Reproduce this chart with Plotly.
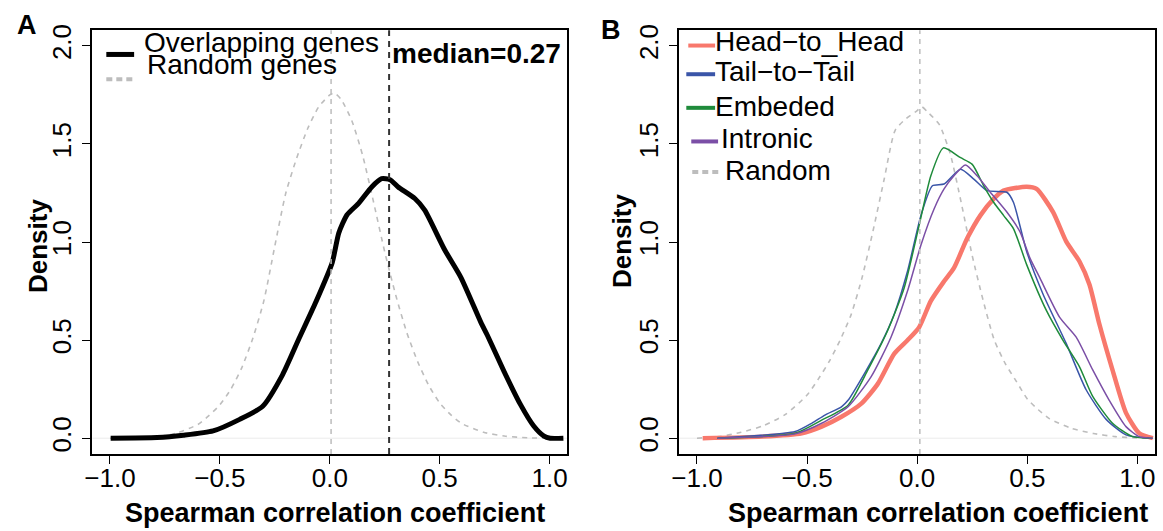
import plotly.graph_objects as go

W, H = 1163, 531

# ---------------- data ----------------
# Panel A: Overlapping genes density
a_overlap_x = [-0.997, -0.786, -0.666, -0.531, -0.41, -0.305, -0.215, -0.14, -0.064, 0.011, 0.041,
               0.078, 0.131, 0.191, 0.236, 0.274, 0.311, 0.387, 0.432, 0.522, 0.597, 0.687, 0.717,
               0.793, 0.868, 0.928, 0.973, 1.003, 1.063]
a_overlap_y = [0.0, 0.003, 0.015, 0.037, 0.096, 0.163, 0.323, 0.508, 0.693, 0.895, 1.046,
               1.138, 1.197, 1.281, 1.323, 1.318, 1.281, 1.222, 1.163, 0.962, 0.819, 0.592, 0.525,
               0.34, 0.171, 0.062, 0.012, 0.0, 0.0]
# Panel A: Random genes density
a_random_x = [-1.0, -0.9, -0.8, -0.7, -0.6, -0.55, -0.5, -0.45, -0.4, -0.35, -0.3, -0.25, -0.2, -0.15,
              -0.1, -0.05, 0.0, 0.02, 0.05, 0.1, 0.15, 0.2, 0.25, 0.3, 0.35, 0.4, 0.45, 0.5, 0.55,
              0.6, 0.7, 0.8, 0.9, 1.0, 1.06]
a_random_y = [0.0, 0.0, 0.004, 0.025, 0.07, 0.115, 0.17, 0.25, 0.36, 0.51, 0.70, 0.98, 1.25, 1.43,
              1.58, 1.69, 1.75, 1.76, 1.73, 1.62, 1.44, 1.2, 0.95, 0.73, 0.54, 0.39, 0.27, 0.18, 0.12,
              0.075, 0.03, 0.01, 0.002, 0.0, 0.0]
a_median_overlap = 0.27
a_median_random = 0.006

# Panel B
b_head_x = [-0.974, -0.704, -0.524, -0.434, -0.344, -0.254, -0.179, -0.104, -0.044, 0.009, 0.062,
            0.122, 0.167, 0.227, 0.287, 0.347, 0.392, 0.497, 0.542, 0.617, 0.677, 0.737, 0.782,
            0.827, 0.887, 0.948, 1.008, 1.07]
b_head_y = [0.0, 0.008, 0.025, 0.059, 0.109, 0.176, 0.277, 0.431, 0.499, 0.566, 0.70,
            0.80, 0.868, 1.019, 1.136, 1.22, 1.262, 1.282, 1.271, 1.153, 1.002, 0.901, 0.784,
            0.582, 0.347, 0.129, 0.025, 0.0]
b_tail_x = [-0.907, -0.554, -0.479, -0.419, -0.344, -0.314, -0.239, -0.164, -0.104, -0.044, 0.017,
            0.069, 0.122, 0.197, 0.257, 0.317, 0.407, 0.437, 0.497, 0.572, 0.677, 0.767, 0.858,
            0.948, 1.053]
b_tail_y = [0.0, 0.034, 0.076, 0.118, 0.16, 0.193, 0.331, 0.482, 0.633, 0.851, 1.136,
            1.287, 1.296, 1.371, 1.321, 1.262, 1.254, 1.203, 0.952, 0.733, 0.482, 0.247, 0.096,
            0.017, 0.0]
b_emb_x = [-0.907, -0.554, -0.434, -0.314, -0.224, -0.134, -0.059, 0.009, 0.062, 0.119, 0.197,
           0.25, 0.302, 0.347, 0.392, 0.437, 0.497, 0.587, 0.662, 0.737, 0.797, 0.887, 0.977, 1.068]
b_emb_y = [0.0, 0.025, 0.092, 0.168, 0.348, 0.549, 0.767, 1.086, 1.338, 1.48, 1.43,
           1.396, 1.287, 1.203, 1.136, 1.069, 0.885, 0.65, 0.499, 0.364, 0.213, 0.076, 0.008, 0.0]
b_intr_x = [-0.907, -0.554, -0.434, -0.314, -0.209, -0.119, -0.044, 0.017, 0.077, 0.122, 0.167,
            0.219, 0.272, 0.332, 0.407, 0.467, 0.512, 0.557, 0.647, 0.722, 0.797, 0.872, 0.948,
            1.008, 1.07]
b_intr_y = [0.0, 0.022, 0.076, 0.16, 0.314, 0.515, 0.75, 0.985, 1.17, 1.271, 1.338,
            1.393, 1.338, 1.254, 1.153, 1.052, 0.918, 0.817, 0.616, 0.515, 0.348, 0.193, 0.059,
            0.008, 0.0]
b_random_x = [-1.0, -0.9, -0.8, -0.7, -0.6, -0.5, -0.45, -0.4, -0.35, -0.3, -0.25, -0.2, -0.15, -0.1,
              -0.05, 0.0, 0.02, 0.05, 0.1, 0.15, 0.2, 0.25, 0.3, 0.35, 0.4, 0.45, 0.5, 0.55, 0.6,
              0.7, 0.8, 0.9, 1.0, 1.06]
b_random_y = [0.0, 0.008, 0.03, 0.063, 0.12, 0.22, 0.3, 0.39, 0.5, 0.63, 0.82, 1.06, 1.32, 1.57,
              1.63, 1.67, 1.69, 1.66, 1.6, 1.45, 1.2, 0.93, 0.7, 0.5, 0.38, 0.29, 0.2, 0.145, 0.1,
              0.05, 0.024, 0.008, 0.001, 0.0]
b_median_random = 0.012

x_ticks = [-1.0, -0.5, 0.0, 0.5, 1.0]
y_ticks = [0.0, 0.5, 1.0, 1.5, 2.0]
x_title = "Spearman correlation coefficient"
y_title = "Density"

# ---------------- styling ----------------
FONT = "Liberation Sans, Arial, Helvetica, sans-serif"
SALMON = "#F8786C"
BLUE = "#3A55A8"
GREEN = "#1F8B3B"
PURPLE = "#7B4FA6"
GRAY = "#BDBDBD"


def px(x):
    return x / W


def py(y):
    return 1 - y / H


fig = go.Figure()

fig.add_trace(go.Scatter(x=a_random_x, y=a_random_y, mode="lines", xaxis="x", yaxis="y",
                         line=dict(color=GRAY, width=1.6, dash="5px,5px", shape="spline", smoothing=0.6)))
fig.add_trace(go.Scatter(x=a_overlap_x, y=a_overlap_y, mode="lines", xaxis="x", yaxis="y",
                         line=dict(color="black", width=5, shape="spline", smoothing=0.6)))

fig.add_trace(go.Scatter(x=b_random_x, y=b_random_y, mode="lines", xaxis="x2", yaxis="y2",
                         line=dict(color=GRAY, width=1.6, dash="5px,5px", shape="spline", smoothing=0.6)))
fig.add_trace(go.Scatter(x=b_head_x, y=b_head_y, mode="lines", xaxis="x2", yaxis="y2",
                         line=dict(color=SALMON, width=4.5, shape="spline", smoothing=0.6)))
fig.add_trace(go.Scatter(x=b_tail_x, y=b_tail_y, mode="lines", xaxis="x2", yaxis="y2",
                         line=dict(color=BLUE, width=1.5, shape="spline", smoothing=0.6)))
fig.add_trace(go.Scatter(x=b_emb_x, y=b_emb_y, mode="lines", xaxis="x2", yaxis="y2",
                         line=dict(color=GREEN, width=1.5, shape="spline", smoothing=0.6)))
fig.add_trace(go.Scatter(x=b_intr_x, y=b_intr_y, mode="lines", xaxis="x2", yaxis="y2",
                         line=dict(color=PURPLE, width=1.5, shape="spline", smoothing=0.6)))

ydom = [py(453), py(24.5)]
axis_common = dict(range=[-1.08, 1.08], tickvals=x_ticks, ticktext=["−1.0", "−0.5", "0.0", "0.5", "1.0"],
                   ticks="outside", ticklen=8, tickwidth=1.3, tickcolor="black",
                   showline=True, linecolor="black", linewidth=1.5, mirror=True, ticklabelstandoff=-8,
                   showgrid=False, zeroline=False, tickfont=dict(family=FONT, size=26, color="black"))
yaxis_common = dict(range=[-0.08, 2.08], tickvals=y_ticks, ticktext=["0.0", "0.5", "1.0", "1.5", "2.0"],
                    ticks="outside", ticklen=9, tickwidth=1.3, tickcolor="black",
                    showline=True, linecolor="black", linewidth=1.5, mirror=True,
                    showgrid=False, zeroline=False, tickangle=-90,
                    tickfont=dict(family=FONT, size=26, color="black"), domain=ydom)

fig.update_layout(
    width=W, height=H, margin=dict(l=0, r=0, t=0, b=0),
    paper_bgcolor="white", plot_bgcolor="white", showlegend=False,
    xaxis=dict(domain=[px(85), px(563)], anchor="y", **axis_common),
    yaxis=dict(anchor="x", **yaxis_common),
    xaxis2=dict(domain=[px(676), px(1155)], anchor="y2", **axis_common),
    yaxis2=dict(anchor="x2", **yaxis_common),
)

shapes = []
# zero lines
for xr, yr in (("x domain", "y"), ("x2 domain", "y2")):
    shapes.append(dict(type="line", xref=xr, yref=yr, x0=0, x1=1, y0=0, y1=0,
                       line=dict(color="#EBEBEB", width=1), layer="below"))
# median lines
shapes.append(dict(type="line", xref="x", yref="y domain", x0=a_median_random, x1=a_median_random, y0=0, y1=1,
                   line=dict(color=GRAY, width=1.5, dash="5px,5px")))
shapes.append(dict(type="line", xref="x", yref="y domain", x0=a_median_overlap, x1=a_median_overlap, y0=0, y1=1,
                   line=dict(color="#333333", width=2, dash="6px,5px")))
shapes.append(dict(type="line", xref="x2", yref="y2 domain", x0=b_median_random, x1=b_median_random, y0=0, y1=1,
                   line=dict(color=GRAY, width=1.5, dash="5px,5px")))

# legend keys
def seg(x0, x1, y, color, width, dash=None):
    ln = dict(color=color, width=width)
    if dash:
        ln["dash"] = dash
    shapes.append(dict(type="line", xref="paper", yref="paper", x0=px(x0), x1=px(x1), y0=py(y), y1=py(y), line=ln))

seg(99, 127, 49, "black", 5)
seg(99, 127, 74, GRAY, 4, "6px,4px")
seg(685, 712, 40, SALMON, 4)
seg(683, 712, 69, BLUE, 4)
seg(683, 712, 103, GREEN, 4)
seg(688, 715, 137, PURPLE, 4)
seg(689, 718, 168, GRAY, 4, "6px,4px")
fig.update_layout(shapes=shapes)

ann = []

def txt(x, y, s, size, bold=False, xanchor="left", angle=0):
    ann.append(dict(xref="paper", yref="paper", x=px(x), y=py(y), text=("<b>%s</b>" % s) if bold else s,
                    showarrow=False, xanchor=xanchor, yanchor="middle", textangle=angle,
                    font=dict(family=FONT, size=size, color="black")))

txt(135, 37, "Overlapping genes", 28)
txt(138, 59, "Random genes", 28)
txt(385, 48, "median=0.27", 28, bold=True)

txt(710, 36, "Head−to_Head", 28)
txt(710, 66, "Tail−to−Tail", 28)
txt(710, 102, "Embeded", 28)
txt(716, 134, "Intronic", 28)
txt(720, 166, "Random", 28)

txt(329, 513, x_title, 27, bold=True, xanchor="center")
txt(936, 513, x_title, 27, bold=True, xanchor="center")
txt(30, 243, y_title, 26, bold=True, xanchor="center", angle=-90)
txt(619, 238, y_title, 26, bold=True, xanchor="center", angle=-90)
txt(19, 19, "A", 27, bold=True, xanchor="center")
txt(607, 24, "B", 27, bold=True, xanchor="center")
fig.update_layout(annotations=ann)

fig.write_html("out.html")
